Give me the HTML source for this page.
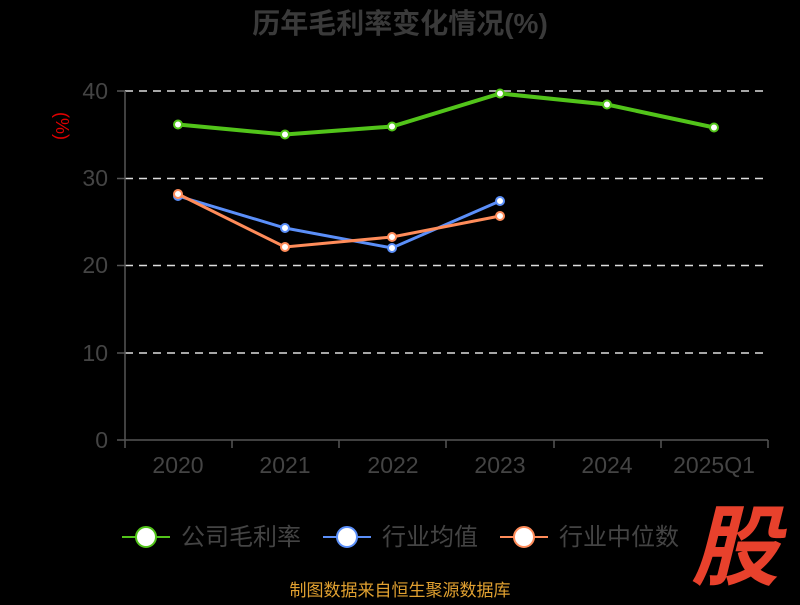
<!DOCTYPE html>
<html><head><meta charset="utf-8"><style>
html,body{margin:0;padding:0;background:#000;}
svg text{font-family:"Liberation Sans","Noto Sans CJK SC",sans-serif;}
</style></head><body>
<svg width="800" height="600" xmlns="http://www.w3.org/2000/svg">
<rect width="800" height="600" fill="#000"/>
<text x="400" y="33" text-anchor="middle" font-size="28" font-weight="bold" fill="#3a3a3a">历年毛利率变化情况(%)</text>
<text x="0" y="0" transform="translate(56,126) rotate(90)" text-anchor="middle" font-size="18" fill="#e00000">(%)</text>
<g stroke="#ddd" stroke-width="1.5" stroke-dasharray="8,6">
<line x1="125" y1="91" x2="768" y2="91"/>
<line x1="125" y1="178.5" x2="768" y2="178.5"/>
<line x1="125" y1="265.5" x2="768" y2="265.5"/>
<line x1="125" y1="353" x2="768" y2="353"/>
</g>
<g stroke="#555" stroke-width="1.5">
<line x1="125" y1="91" x2="125" y2="440"/>
<line x1="125" y1="440" x2="768" y2="440"/>
<line x1="117" y1="91" x2="125" y2="91"/><line x1="117" y1="178.5" x2="125" y2="178.5"/><line x1="117" y1="265.5" x2="125" y2="265.5"/><line x1="117" y1="353" x2="125" y2="353"/><line x1="117" y1="440" x2="125" y2="440"/>
<line x1="125" y1="440" x2="125" y2="448"/><line x1="232" y1="440" x2="232" y2="448"/><line x1="339" y1="440" x2="339" y2="448"/><line x1="446" y1="440" x2="446" y2="448"/><line x1="554" y1="440" x2="554" y2="448"/><line x1="661" y1="440" x2="661" y2="448"/><line x1="768" y1="440" x2="768" y2="448"/>
</g>
<g font-size="23" fill="#444" text-anchor="end">
<text x="108" y="99">40</text><text x="108" y="186">30</text><text x="108" y="273">20</text><text x="108" y="361">10</text><text x="108" y="448">0</text>
</g>
<g font-size="23" fill="#444" text-anchor="middle">
<text x="178" y="473">2020</text><text x="285" y="473">2021</text><text x="393" y="473">2022</text><text x="500" y="473">2023</text><text x="607" y="473">2024</text><text x="714" y="473">2025Q1</text>
</g>
<polyline fill="none" stroke="#52c41a" stroke-width="4" points="178,124.5 285,134.5 392,126.5 500,93.5 607,104.5 714,127.5"/>
<g fill="#fff" stroke="#52c41a" stroke-width="2">
<circle cx="178" cy="124.5" r="4"/><circle cx="285" cy="134.5" r="4"/><circle cx="392" cy="126.5" r="4"/><circle cx="500" cy="93.5" r="4"/><circle cx="607" cy="104.5" r="4"/><circle cx="714" cy="127.5" r="4"/>
</g>
<polyline fill="none" stroke="#5b8ff9" stroke-width="3" points="178,196 285,228 392,248 500,201"/>
<g fill="#fff" stroke="#5b8ff9" stroke-width="2">
<circle cx="178" cy="196" r="4"/><circle cx="285" cy="228" r="4"/><circle cx="392" cy="248" r="4"/><circle cx="500" cy="201" r="4"/>
</g>
<polyline fill="none" stroke="#ff8c5a" stroke-width="3" points="178,194 285,247 392,237 500,216"/>
<g fill="#fff" stroke="#ff8c5a" stroke-width="2">
<circle cx="178" cy="194" r="4"/><circle cx="285" cy="247" r="4"/><circle cx="392" cy="237" r="4"/><circle cx="500" cy="216" r="4"/>
</g>
<g font-size="24" fill="#444">
<line x1="122" y1="537" x2="170" y2="537" stroke="#52c41a" stroke-width="2"/><circle cx="146" cy="537" r="10" fill="#fff" stroke="#52c41a" stroke-width="2"/>
<text x="181" y="545">公司毛利率</text>
<line x1="323" y1="537" x2="371" y2="537" stroke="#5b8ff9" stroke-width="2"/><circle cx="347" cy="537" r="10" fill="#fff" stroke="#5b8ff9" stroke-width="2"/>
<text x="382" y="545">行业均值</text>
<line x1="500" y1="537" x2="548" y2="537" stroke="#ff8c5a" stroke-width="2"/><circle cx="524" cy="537" r="10" fill="#fff" stroke="#ff8c5a" stroke-width="2"/>
<text x="559" y="545">行业中位数</text>
</g>
<text x="735" y="578" text-anchor="middle" font-size="88" font-weight="bold" font-style="italic" fill="#e8412c">股</text>
<text x="400" y="596" text-anchor="middle" font-size="17" fill="#e0a030">制图数据来自恒生聚源数据库</text>
</svg>
</body></html>
